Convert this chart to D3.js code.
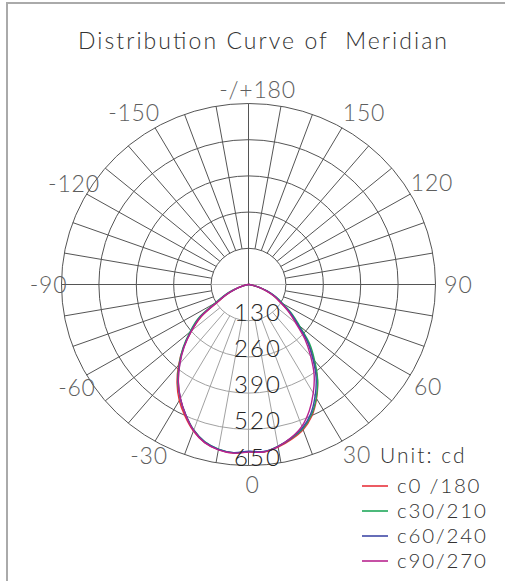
<!DOCTYPE html>
<html>
<head>
<meta charset="utf-8">
<script src="https://cdn.jsdelivr.net/npm/d3@7"></script>
<style>
 body{margin:0;background:#fff;}
 text{font-family:Lato,"Noto Sans",sans-serif;font-weight:300;}
</style>
</head>
<body>
<svg id="chart" width="505" height="581"></svg>
<script>
// angles in degrees, 0 = down, positive = right
var angles = d3.range(-90, 91, 5);

var c0   = [0,0,5,20,48,82,120,200,258,320,378,433,481,522,560,588,602,608,601,
            604,593,576,555,521,473,418,352,290,220,172,128,97,64,33,11,2,0];
var c30  = [0,0,6,25,55,92,135,215,266,322,375,428,474,516,556,585,600,606,600,
            603,590,572,551,517,471,419,358,300,232,185,138,105,70,37,13,2,0];
var c60  = [0,0,5,22,50,86,126,206,260,318,372,426,473,516,557,586,601,606,599,
            602,590,571,548,512,463,410,348,290,224,178,133,101,68,36,12,2,0];
var c90  = [0,0,5,21,49,84,124,204,258,316,371,425,473,517,558,588,603,608,602,
            604,591,570,542,500,450,398,336,277,214,170,128,98,66,34,12,2,0];

var seriesNames = ["c0 /180","c30/210","c60/240","c90/270"];
var seriesColors = ["#e8323c","#1fa85a","#3f48a6","#b8248f"];
var ringTicks = [130,260,390,520,650];
var angleTicks = [180,150,120,90,60,30,0,-30,-60,-90,-120,-150];

var svg = d3.select("#chart");
var cx = 248.5, cy = 284.5, rx = 187, ry = 181;
var r = d3.scaleLinear().domain([0,650]).range([0,1]);

function pt(a, v){
  var t = a*Math.PI/180, k = r(v);
  return [cx + rx*k*Math.sin(t), cy + ry*k*Math.cos(t)];
}

// frame
svg.append("line").attr("x1",7).attr("y1",3).attr("x2",7).attr("y2",581)
  .attr("stroke","#aaa").attr("stroke-width",2);
svg.append("line").attr("x1",6).attr("y1",3).attr("x2",505).attr("y2",3)
  .attr("stroke","#aaa").attr("stroke-width",2);

svg.append("text").attr("x",78).attr("y",49)
  .attr("font-size",23).attr("fill","#333")
  .attr("textLength",369).attr("lengthAdjust","spacing")
  .style("white-space","pre")
  .text("Distribution Curve of  Meridian");

var grid = svg.append("g").attr("fill","none").attr("stroke","#555").attr("stroke-width",1);

ringTicks.forEach(function(v){
  grid.append("ellipse").attr("cx",cx).attr("cy",cy)
    .attr("rx",rx*r(v)).attr("ry",ry*r(v));
});

d3.range(-180,180,10).forEach(function(a){
  var inner = (a % 90 === 0) ? 0 : ringTicks[0];
  var p0 = pt(a, inner), p1 = pt(a, 650);
  grid.append("line").attr("x1",p0[0]).attr("y1",p0[1]).attr("x2",p1[0]).attr("y2",p1[1]);
});
// lighter horizontal inside the inner ring
var h0 = pt(-90, ringTicks[0]), h1 = pt(90, ringTicks[0]);
svg.append("line").attr("x1",h0[0]).attr("x2",h1[0]).attr("y1",cy).attr("y2",cy)
  .attr("stroke","#bbb").attr("stroke-width",1.2);

var line = d3.line().curve(d3.curveCatmullRom);
function pathOf(vals){
  return line(angles.map(function(a,i){ return pt(a, vals[i]); }));
}

// soft white wash over the lit area
svg.append("path").attr("d",pathOf(c0) + "Z").attr("fill","#fff").attr("opacity",0.45);

var data = [c0,c30,c60,c90];
data.forEach(function(vals,i){
  svg.append("path").attr("d",pathOf(vals))
    .attr("fill","none").attr("stroke",seriesColors[i]).attr("stroke-width",1.4);
});

// ring labels
ringTicks.forEach(function(v){
  svg.append("text").attr("x",258).attr("y",cy + ry*r(v))
    .attr("text-anchor","middle").attr("font-size",24).attr("fill","#222")
    .attr("letter-spacing",2).text(v);
});

// angle labels
var nudge = {"180":[9,3],"150":[13,0],"-150":[-12,0],"120":[6,-3],"90":[5,0],"60":[2,3],
             "30":[6,-1],"0":[4,2],"-30":[3,0],"-60":[6,4],"-90":[5,0],"-120":[3,-2]};
angleTicks.forEach(function(a){
  var t = a*Math.PI/180;
  var n = nudge[String(a)];
  svg.append("text")
    .attr("x", cx + 205*Math.sin(t) + n[0])
    .attr("y", cy + 198*Math.cos(t) + n[1])
    .attr("dy","0.35em")
    .attr("text-anchor","middle").attr("font-size",23).attr("fill","#5e5e5e")
    .attr("letter-spacing",0.8)
    .text(a === 180 ? "-/+180" : a);
});

// legend
svg.append("text").attr("x",380).attr("y",463).attr("font-size",21).attr("fill","#333")
  .attr("letter-spacing",2).text("Unit: cd");
seriesNames.forEach(function(s,i){
  var y = 486 + i*25;
  svg.append("line").attr("x1",362).attr("x2",388).attr("y1",y).attr("y2",y)
    .attr("stroke",seriesColors[i]).attr("stroke-width",1.6);
  svg.append("text").attr("x",397).attr("y",y).attr("dy","0.35em")
    .attr("font-size",20.5).attr("fill","#333").attr("letter-spacing",1.8).text(s);
});
</script>
</body>
</html>
